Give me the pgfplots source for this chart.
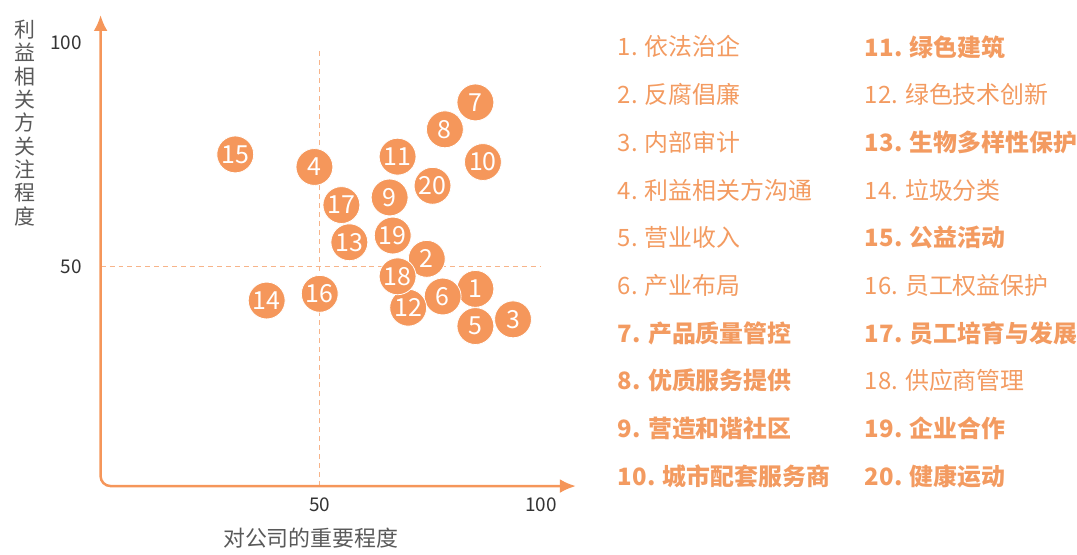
\documentclass[border=0pt]{standalone}
\usepackage{pgfplots}
\pgfplotsset{compat=1.18}
\usepackage{pgfplotstable}
\usepackage{fontspec}
\setmainfont{Noto Sans CJK SC}
\usetikzlibrary{arrows.meta}
\definecolor{dotc}{HTML}{F5975B}
\definecolor{axc}{HTML}{F5965A}
\definecolor{dashc}{HTML}{F7B48A}
\definecolor{legc}{HTML}{F39B61}
\definecolor{tickc}{HTML}{333333}
\definecolor{labc}{HTML}{595959}

\pgfplotstableread{
x y lab
85.2 45.1 1
74.2 51.8 2
93.7 38.3 3
48.8 72.3 4
85.2 36.8 5
77.8 43.4 6
85.2 86.7 7
78.3 80.7 8
65.8 65.5 9
86.9 73.4 10
67.6 74.6 11
70.0 40.9 12
56.7 55.5 13
38.0 42.5 14
30.9 75.1 15
50.0 44.0 16
54.9 63.8 17
67.6 47.9 18
66.5 57.0 19
75.5 68.1 20
}\datatable

\begin{document}
\begin{tikzpicture}
\path (-49.5pt,-28.5pt) rectangle (489pt,246.5pt);
\begin{axis}[
  at={(0pt,0pt)}, anchor=south west,
  scale only axis, width=239.8pt, height=238.5pt,
  xmin=0, xmax=108, ymin=0, ymax=106,
  axis line style={draw=none},
  xtick={50,100}, ytick={50,100},
  major tick length=0pt, tick style={draw=none},
  ticklabel style={font=\fontsize{9.5}{11}\selectfont, text=tickc},
  yticklabel style={xshift=-5pt},
  /pgf/number format/assume math mode=true,
  clip=false,
]
\draw[dashc, dash pattern=on 2.5pt off 2pt, line width=0.5pt] (axis cs:50,1.1) -- (axis cs:50,98.9);
\draw[dashc, dash pattern=on 2.5pt off 2pt, line width=0.5pt] (axis cs:0.45,50) -- (axis cs:100,50);
\draw[axc, line width=1.25pt, rounded corners=5pt, {Latex[length=8pt,width=7pt]}-{Latex[length=8pt,width=7pt]}]
  (axis cs:107.9,1.1) -- (axis cs:0.45,1.1) -- (axis cs:0.45,106.2);
\addplot[only marks, mark=*, mark size=9.25pt,
  mark options={fill=dotc, draw=white, line width=0.4pt},
  point meta=explicit symbolic,
  nodes near coords={\pgfplotspointmeta},
  every node near coord/.append style={anchor=center, text=white, font=\fontsize{12.5}{14}\selectfont, inner sep=0pt},
] table[x=x, y=y, meta=lab] {\datatable};
\end{axis}
\node[text=labc, font=\fontsize{10.5}{11.7}\selectfont, align=center] at (-37pt,184.75pt) {利\\益\\相\\关\\方\\关\\注\\程\\度};
\node[text=labc, font=\fontsize{11}{13}\selectfont] at (106.5pt,-23.5pt) {对公司的重要程度};
\begin{scope}[every node/.style={anchor=west, text=legc, font=\fontsize{12}{14}\selectfont, inner sep=0pt}]
\node at (260.5pt,223pt) {1. 依法治企};
\node at (260.5pt,199.05pt) {2. 反腐倡廉};
\node at (260.5pt,175.1pt) {3. 内部审计};
\node at (260.5pt,151.15pt) {4. 利益相关方沟通};
\node at (260.5pt,127.2pt) {5. 营业收入};
\node at (260.5pt,103.25pt) {6. 产业布局};
\node at (260.5pt,79.3pt) {\bfseries 7. 产品质量管控};
\node at (260.5pt,55.35pt) {\bfseries 8. 优质服务提供};
\node at (260.5pt,31.4pt) {\bfseries 9. 营造和谐社区};
\node at (260.5pt,7.45pt) {\bfseries 10. 城市配套服务商};
\node at (384.5pt,223pt) {\bfseries 11. 绿色建筑};
\node at (384.5pt,199.05pt) {12. 绿色技术创新};
\node at (384.5pt,175.1pt) {\bfseries 13. 生物多样性保护};
\node at (384.5pt,151.15pt) {14. 垃圾分类};
\node at (384.5pt,127.2pt) {\bfseries 15. 公益活动};
\node at (384.5pt,103.25pt) {16. 员工权益保护};
\node at (384.5pt,79.3pt) {\bfseries 17. 员工培育与发展};
\node at (384.5pt,55.35pt) {18. 供应商管理};
\node at (384.5pt,31.4pt) {\bfseries 19. 企业合作};
\node at (384.5pt,7.45pt) {\bfseries 20. 健康运动};
\end{scope}
\end{tikzpicture}
\end{document}
